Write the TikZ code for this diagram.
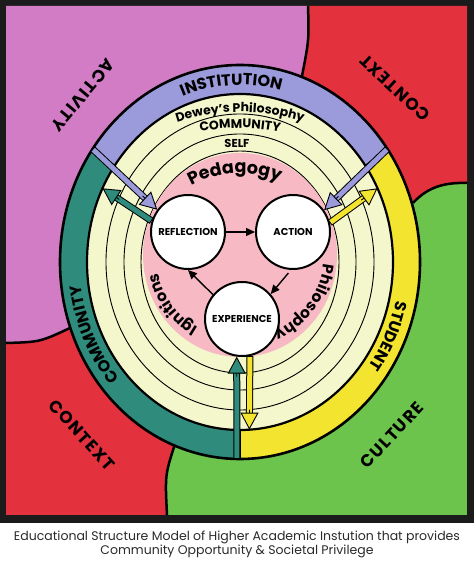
\documentclass[tikz,border=0pt]{standalone}
\usepackage{fontspec}
\setmainfont{Poppins}
\usetikzlibrary{calc,positioning,arrows.meta,decorations.text}

\definecolor{frameblk}{HTML}{1B1B1B}
\definecolor{magq}{HTML}{D17CC4}
\definecolor{redq}{HTML}{E3313E}
\definecolor{greenq}{HTML}{6CC44C}
\definecolor{lav}{HTML}{9B9BDB}
\definecolor{tealr}{HTML}{2F8C7D}
\definecolor{yelr}{HTML}{F3E52F}
\definecolor{cream}{HTML}{F4F6CC}
\definecolor{pinkc}{HTML}{F7BAC5}
\definecolor{capgray}{HTML}{2A2A2A}

\newcommand\ringfont{\bfseries\fontsize{16}{16}\selectfont}
\newcommand\bandfont{\bfseries\fontsize{12.5}{12.5}\selectfont}
\newcommand\pinkfont{\bfseries\fontsize{17.5}{17.5}\selectfont}
\newcommand\sidefont{\bfseries\fontsize{15.5}{15.5}\selectfont}

% fat outlined arrow: colour, from, to
\newcommand\fatarrow[3]{%
  \draw[line width=7pt, black, shorten >=15pt] #2 -- #3;
  \draw[line width=5pt, #1, shorten >=14pt, shorten <=1pt] #2 -- #3;
  \draw[line width=0.9pt, black, -{Triangle[length=17pt,width=18pt,fill=#1]}]
    ($#3!20pt!#2$) -- #3;}

\begin{document}
\begin{tikzpicture}[x=1pt, y=1pt,
    stage/.style={circle, draw=black, line width=2pt, fill=white,
                  minimum size=74pt, inner sep=0pt,
                  font=\bfseries\fontsize{10}{10}\selectfont},
    quad/.style={inner sep=0pt,
                 font=\bfseries\fontsize{17}{17}\selectfont\addfontfeature{LetterSpace=8}},
    bnd/.style={line width=2.5pt, black},
    ringline/.style={line width=0.9pt, black},
    cyc/.style={-{Triangle[length=9pt,width=8pt]}, line width=1.4pt},
    ringtext/.style={decorate, decoration={text along path, text align=center, text={#1}}}
]
  \useasboundingbox (0,0) rectangle (474,562);
  \coordinate (C) at (240,300);
  \coordinate (P) at (240,307);

  % frame and quadrants
  \fill[white] (0,0) rectangle (474,39);
  \fill[frameblk] (0,39) rectangle (474,562);
  \fill[greenq] (6,47) rectangle (467,556);
  \fill[magq] (6,556) -- (308,556) .. controls (309,522) .. (302,486) -- (C)
    -- (70,234) .. controls (40,220) .. (6,219) -- cycle;
  \fill[redq] (308,556) -- (467,556) -- (467,379) .. controls (440,380) and (425,372) .. (413,359)
    -- (C) -- (302,486) .. controls (309,522) .. (308,556) -- cycle;
  \fill[redq] (6,219) .. controls (40,220) .. (70,234) -- (C)
    -- (175,118) .. controls (165,87) .. (167,47) -- (6,47) -- cycle;
  \draw[bnd] (308,556) .. controls (309,522) .. (302,486);
  \draw[bnd] (467,379) .. controls (440,380) and (425,372) .. (413,359);
  \draw[bnd] (6,219) .. controls (40,220) .. (70,234);
  \draw[bnd] (167,47) .. controls (165,87) .. (175,118);

  % outer ring
  \foreach \col/\a/\b in {lav/35/145, tealr/145/270, yelr/-90/35}
    \fill[\col] ($(C)+(\a:180 and 197)$) arc[start angle=\a, end angle=\b, x radius=180, y radius=197]
      -- ($(C)+(\b:153 and 168)$) arc[start angle=\b, end angle=\a, x radius=153, y radius=168] -- cycle;
  \fill[cream] (C) ellipse[x radius=153, y radius=168];
  \draw[line width=2.6pt] (C) ellipse[x radius=180, y radius=197];
  \draw[line width=2.2pt] (C) ellipse[x radius=153, y radius=168];
  \foreach \a in {35,145,270}
    \draw[line width=1.6pt] ($(C)+(\a:153 and 168)$) -- ($(C)+(\a:180 and 197)$);

  % inner bands
  \foreach \rx/\ry in {134/148, 116/128, 99/111}
    \draw[ringline] (C) ellipse[x radius=\rx, y radius=\ry];
  \fill[pinkc] (P) ellipse[x radius=97, y radius=102];

  % ring and band labels
  \path[ringtext={|\ringfont|INSTITUTION}] ($(C)+(130:161 and 177)$)
    arc[start angle=130, end angle=56, x radius=161, y radius=177];
  \path[ringtext={|\ringfont|STUDENT}] ($(C)+(5:160 and 176)$)
    arc[start angle=5, end angle=-55, x radius=160, y radius=176];
  \path[ringtext={|\ringfont|COMMUNITY}] ($(C)+(242:160 and 176)$)
    arc[start angle=242, end angle=168, x radius=160, y radius=176];
  \path[ringtext={|\bandfont|Dewey's Philosophy}] ($(240,250)+(118:200)$)
    arc[start angle=118, end angle=62, radius=200];
  \path[ringtext={|\bandfont|COMMUNITY}] ($(240,234)+(112:200)$)
    arc[start angle=112, end angle=68, radius=200];
  \node[font=\bfseries\fontsize{11.5}{11.5}\selectfont] (self) at (237,419) {SELF};
  \path[ringtext={|\pinkfont|Pedagogy}] ($(240,289)+(140:100)$)
    arc[start angle=140, end angle=46, radius=100];
  \path[ringtext={|\sidefont|Philosophy}] ($(P)+(14:84)$)
    arc[start angle=14, end angle=-86, radius=84];
  \path[ringtext={|\sidefont|Ignitions}] ($(P)+(266:84)$)
    arc[start angle=266, end angle=166, radius=84];

  % quadrant labels
  \node[quad, rotate=-130] (activity) at (83,467) {ACTIVITY};
  \node[quad, rotate=137]  (contextT) at (395,474) {CONTEXT};
  \node[quad, rotate=-48]  (contextB) at (82,127) {CONTEXT};
  \node[quad, rotate=47]   (culture)  at (392,127) {CULTURE};

  % learning cycle
  \node[stage] (refl) at (188,330) {REFLECTION};
  \node[stage, right=29pt of refl] (act) {ACTION};
  \node[stage] (expe) at (242,243) {EXPERIENCE};
  \draw[cyc] (refl) -- (act);
  \draw[cyc, shorten <=4pt] (act.-93) -- (expe.41);
  \draw[cyc] (expe.140) -- (refl.-90);

  % ring arrows
  \coordinate (instL) at ($(C)+(145:180 and 197)$);
  \coordinate (instR) at ($(C)+(35:180 and 197)$);
  \coordinate (comL) at ($(C)+(154:153 and 168)$);
  \coordinate (stuR) at ($(C)+(26:153 and 168)$);
  \coordinate (comB) at ($(C)+(-91:180 and 197)$);
  \coordinate (stuB) at ($(C)+(-86.5:153 and 168)$);
  \fatarrow{lav}{(instL)}{(refl.144)}
  \fatarrow{lav}{(instR)}{(act.35)}
  \fatarrow{tealr}{(refl.163)}{(comL)}
  \fatarrow{yelr}{(act.14)}{(stuR)}
  \fatarrow{tealr}{(comB)}{(expe.-98)}
  \fatarrow{yelr}{(expe.-78)}{(stuB)}

  % caption
  \node[font=\fontsize{12.5}{14}\selectfont, text=capgray, align=center] (caption) at (237,18)
    {Educational Structure Model of Higher Academic Instution that provides\\
     Community Opportunity \& Societal Privilege};
\end{tikzpicture}
\end{document}
